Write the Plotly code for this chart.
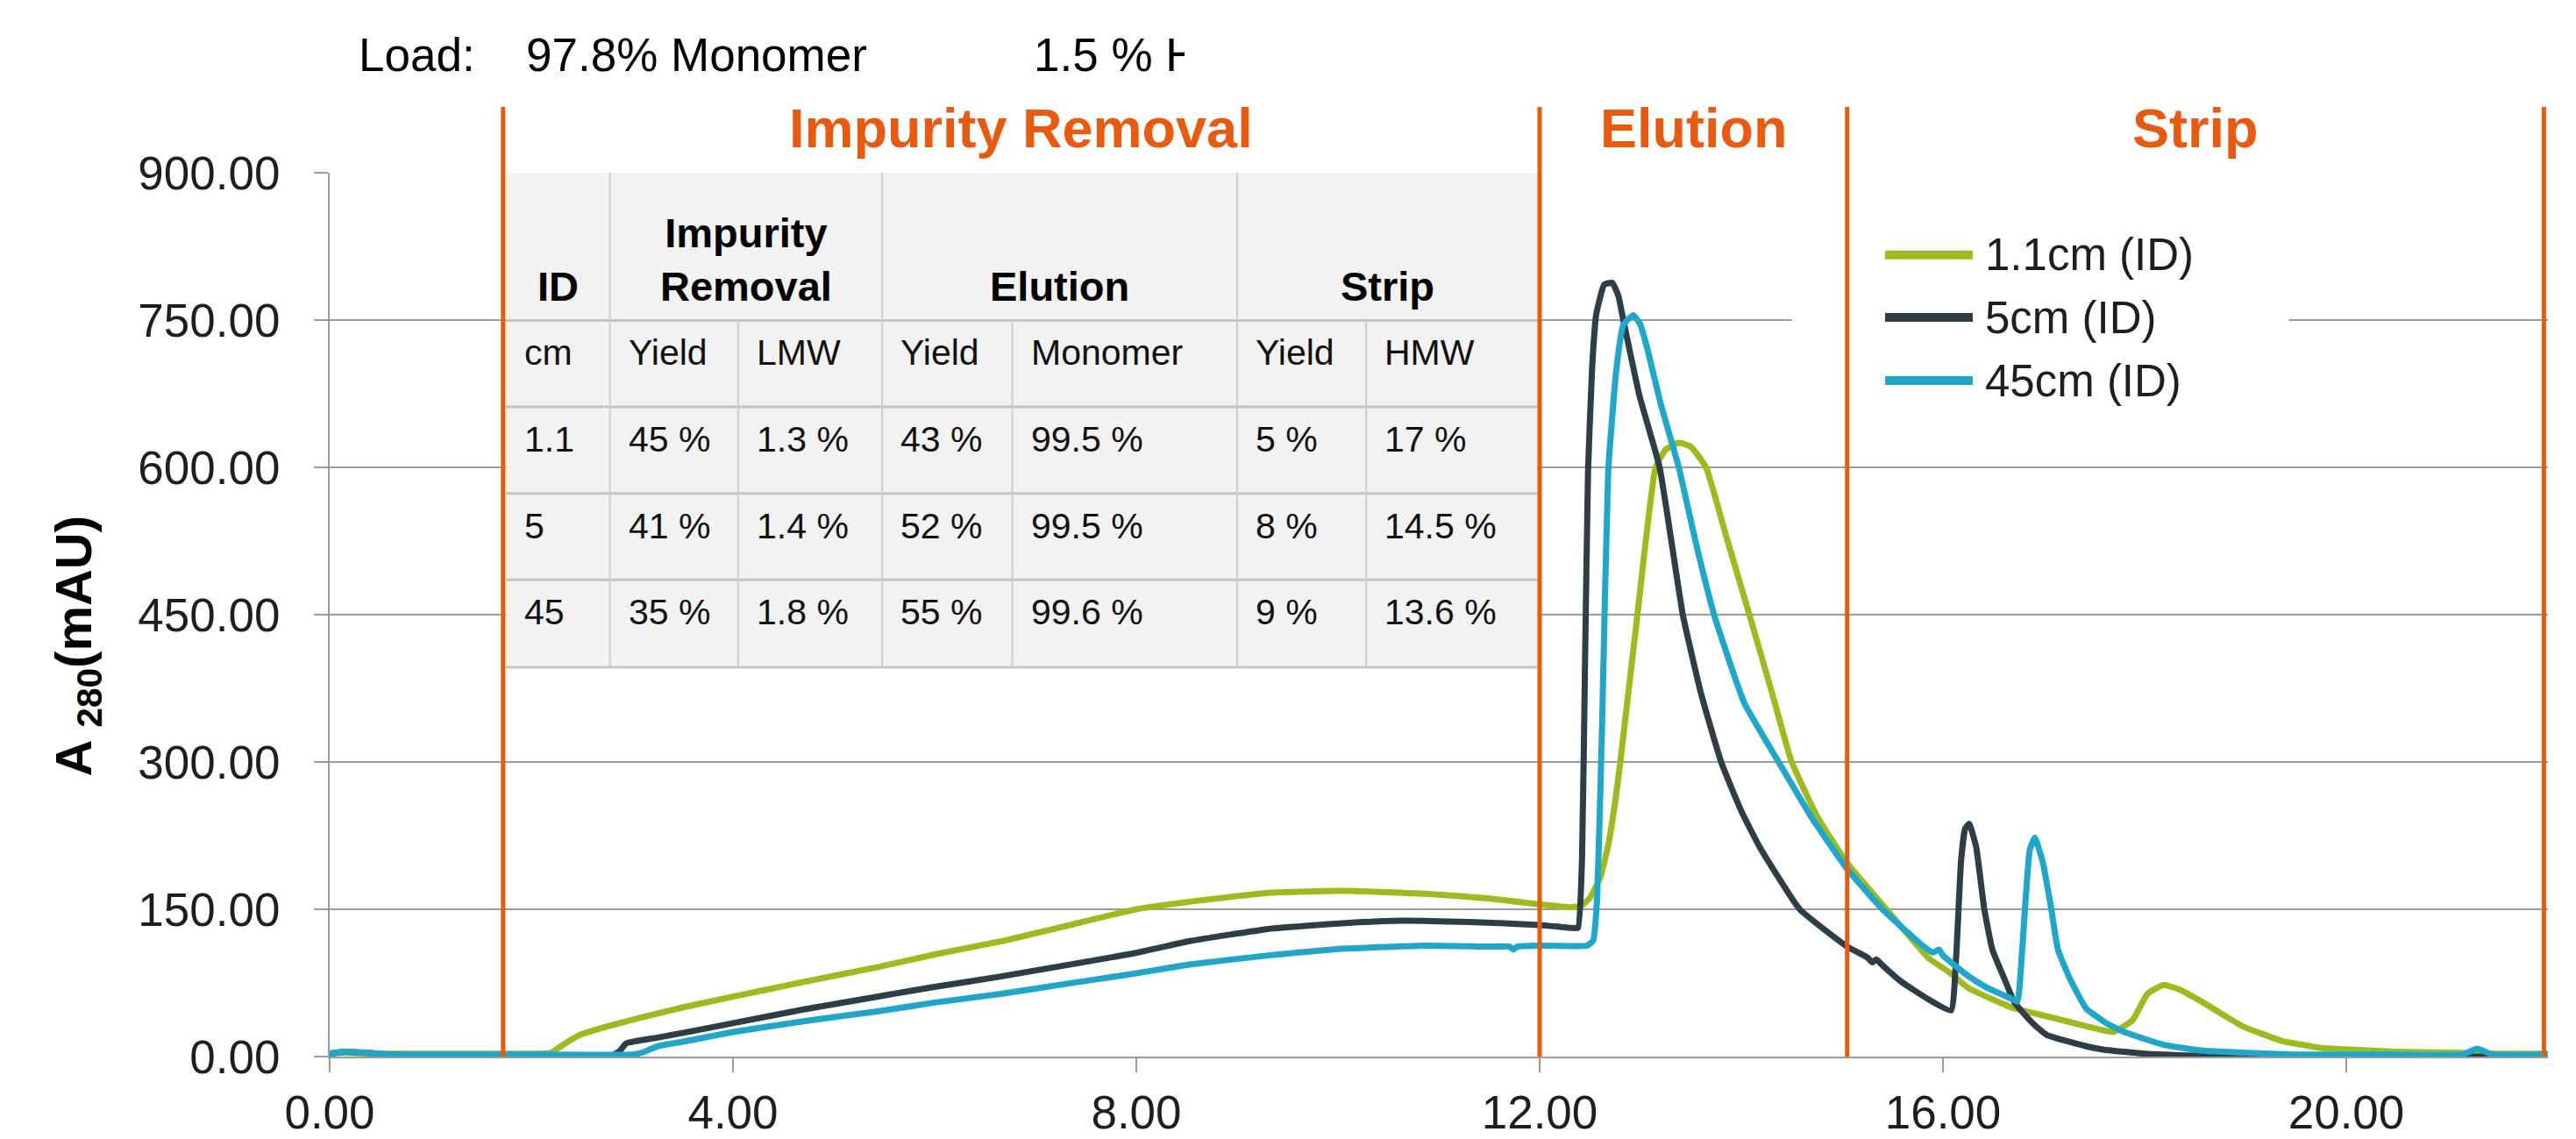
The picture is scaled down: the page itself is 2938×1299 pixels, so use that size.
import plotly.graph_objects as go

# ---------------- chromatogram traces (x = volume, y = A280 in mAU) ----------------
green_name = "1.1cm (ID)"
green_x = [0, 0.15, 0.35, 1.0, 1.7, 2.1, 2.2, 2.3, 2.48, 2.8, 3.1, 3.5, 4.0, 4.7, 5.43, 6.0,
           6.67, 7.3, 8.0, 8.53, 9.31, 10.08, 10.86, 11.5, 12.0, 12.32, 12.42, 12.5, 12.6,
           12.68, 12.75, 12.8, 12.97, 13.15, 13.25, 13.38, 13.5, 13.65, 13.85, 14.08, 14.3,
           14.5, 14.75, 15.05, 15.44, 15.86, 16.06, 16.25, 16.68, 17.07, 17.42, 17.69, 17.88,
           18.03, 18.19, 18.35, 18.58, 18.97, 19.36, 19.74, 20.5, 21.0, 21.5, 22.0]
green_y = [3, 4, 3, 3, 3, 3, 4, 11, 22, 32, 40, 50, 61, 76, 91, 104,
           117.6, 133, 150, 157.7, 166.7, 168.8, 165.8, 161, 155, 152, 154, 162, 182,
           215, 260, 300, 450, 600, 618, 625, 621, 600, 530, 450, 372,
           300, 245, 197, 150, 100, 86, 70, 50, 40, 31, 25, 37,
           64, 73, 68, 55, 31, 16, 9, 5, 4, 3, 3]

dark_name = "5cm (ID)"
dark_x = [0, 0.15, 0.35, 0.6, 1.0, 2.0, 2.8, 2.88, 2.94, 3.25, 3.6, 4.0, 4.7, 5.43, 6.0, 6.67,
          7.3, 8.0, 8.53, 9.31, 10.08, 10.64, 11.3, 12.0, 12.32, 12.38, 12.42, 12.45, 12.48,
          12.52, 12.56, 12.64, 12.72, 12.78, 12.83, 12.99, 13.19, 13.42, 13.6, 13.8, 14.0,
          14.19, 14.58, 15.05, 15.25, 15.3, 15.34, 15.4, 15.59, 15.86, 16.08, 16.13, 16.18,
          16.22, 16.26, 16.33, 16.41, 16.49, 16.61, 16.71, 16.89, 17.03, 17.42, 17.6, 18.0,
          18.5, 19.0, 22.0]
dark_y = [3, 5, 4, 2, 1, 1, 1, 6, 13.4, 19.3, 26, 34, 48, 61, 71, 81.8,
          93, 105.6, 117.6, 130, 136, 138.4, 137, 134, 131, 131, 200, 400, 596,
          700, 755, 786, 788, 775, 750, 673, 600, 450, 370, 300, 250,
          212, 150, 112, 101, 96, 99, 93, 76, 58, 47, 100, 200,
          232, 237, 213, 150, 109, 79, 55, 34, 22, 10.5, 7, 3,
          1, 0, 0]

blue_name = "45cm (ID)"
blue_x = [0, 0.15, 0.35, 0.6, 1.0, 2.0, 3.0, 3.1, 3.25, 3.6, 4.0, 4.7, 5.43, 6.0, 6.67, 7.3,
          8.0, 8.53, 9.31, 10.08, 10.86, 11.5, 11.7, 11.74, 11.78, 12.0, 12.47, 12.53, 12.57,
          12.62, 12.68, 12.76, 12.83, 12.93, 13.0, 13.07, 13.2, 13.38, 13.55, 13.73, 14.03,
          14.37, 14.7, 15.05, 15.4, 15.78, 15.9, 15.96, 16.0, 16.25, 16.44, 16.7, 16.74,
          16.78, 16.82, 16.86, 16.91, 16.99, 17.07, 17.14, 17.26, 17.42, 17.62, 17.8, 18.19,
          18.58, 18.97, 19.5, 20.5, 21.15, 21.3, 21.45, 22.0]
blue_y = [3, 5, 4, 2, 2, 2, 2, 4, 10.4, 17, 25, 36, 46, 55, 64, 74,
          84.8, 93.75, 103, 110, 113, 112, 112, 109, 112, 113, 113, 118, 160,
          340, 596, 699, 745, 755, 745, 720, 665, 600, 523, 450, 360,
          300, 243, 191, 150, 114.6, 106, 109, 103, 82, 70, 58, 56,
          100, 160, 210, 223, 198, 153, 109, 79, 49, 34, 25, 12,
          6, 4, 2, 2, 2, 8, 2, 2]

# ---------------- axes ----------------
x_tick_vals = [0, 4, 8, 12, 16, 20]
y_tick_vals = [0, 150, 300, 450, 600, 750, 900]

# ---------------- phase boundaries and labels ----------------
phase_bounds = [1.72, 12.0, 15.05, 21.96]
phase_names = ["Impurity Removal", "Elution", "Strip"]

# ---------------- summary table ----------------
table_groups = ["ID", "Impurity<br>Removal", "Elution", "Strip"]
table_subheads = ["cm", "Yield", "LMW", "Yield", "Monomer", "Yield", "HMW"]
col_id = ["1.1", "5", "45"]
col_ir_yield = ["45 %", "41 %", "35 %"]
col_ir_lmw = ["1.3 %", "1.4 %", "1.8 %"]
col_el_yield = ["43 %", "52 %", "55 %"]
col_el_monomer = ["99.5 %", "99.5 %", "99.6 %"]
col_st_yield = ["5 %", "8 %", "9 %"]
col_st_hmw = ["17 %", "14.5 %", "13.6 %"]

load_label = "Load:"
load_monomer = "97.8% Monomer"
load_hmw = "1.5 % H"

# ---------------- styling ----------------
FONT = "Liberation Sans, Arial, sans-serif"
GREEN = "#9DBB1F"
DARK = "#2E3E47"
BLUE = "#1FA6C9"
ORANGE = "#E85A0F"
GRID = "#9b9b9b"
TEXT = "#1e1e1e"

W, H = 2938, 1299
PL, PR, PT, PB = 376, 2906, 197, 1205  # plot area in pixels


def px(xpix):
    return (xpix - PL) / (PR - PL)


def py(ypix):
    return (PB - ypix) / (PB - PT)


fig = go.Figure()
for name, xs, ys, color in [(green_name, green_x, green_y, GREEN),
                            (dark_name, dark_x, dark_y, DARK),
                            (blue_name, blue_x, blue_y, BLUE)]:
    fig.add_trace(go.Scatter(x=xs, y=ys, mode="lines", name=name,
                             line=dict(color=color, width=7, shape="spline", smoothing=0.4),
                             showlegend=False))

shapes = []
annotations = []

# table geometry (data coordinates)
col_edges = [1.747, 2.78, 4.05, 5.48, 6.77, 9.0, 10.28, 11.98]
row_edges = [900, 749.6, 661.6, 573.5, 485.4, 396.4]
group_edges = [(col_edges[0], col_edges[1]), (col_edges[1], col_edges[3]),
               (col_edges[3], col_edges[5]), (col_edges[5], col_edges[7])]

shapes.append(dict(type="rect", xref="x", yref="y", x0=col_edges[0], x1=col_edges[-1],
                   y0=row_edges[-1], y1=row_edges[0], fillcolor="#f2f2f2",
                   line=dict(width=0), layer="between"))
for yv in row_edges[1:]:
    shapes.append(dict(type="line", xref="x", yref="y", x0=col_edges[0], x1=col_edges[-1],
                       y0=yv, y1=yv, line=dict(color="#c4c4c4", width=3), layer="between"))
for xv in [col_edges[1], col_edges[3], col_edges[5]]:
    shapes.append(dict(type="line", xref="x", yref="y", x0=xv, x1=xv,
                       y0=row_edges[-1], y1=row_edges[0],
                       line=dict(color="#cdcdcd", width=2), layer="between"))
for xv in [col_edges[2], col_edges[4], col_edges[6]]:
    shapes.append(dict(type="line", xref="x", yref="y", x0=xv, x1=xv,
                       y0=row_edges[-1], y1=row_edges[1],
                       line=dict(color="#cdcdcd", width=2), layer="between"))

# header cells (bold, centred, bottom aligned)
for label, (a, b) in zip(table_groups, group_edges):
    annotations.append(dict(text=f"<b>{label}</b>", xref="x", yref="y", x=(a + b) / 2,
                            y=row_edges[1], xanchor="center", yanchor="bottom", yshift=10,
                            showarrow=False, font=dict(size=47, color="#000000", family=FONT)))

# sub-header and body cells
body_rows = [table_subheads,
             *[list(r) for r in zip(col_id, col_ir_yield, col_ir_lmw, col_el_yield,
                                    col_el_monomer, col_st_yield, col_st_hmw)]]
for ri, row in enumerate(body_rows):
    top = row_edges[ri + 1]
    for ci, txt in enumerate(row):
        annotations.append(dict(text=txt, xref="x", yref="y", x=col_edges[ci], y=top,
                                xanchor="left", yanchor="top", xshift=19, yshift=-12,
                                showarrow=False,
                                font=dict(size=41, color="#111111", family=FONT)))

# white patch behind the legend block
shapes.append(dict(type="rect", xref="x", yref="y", x0=14.5, x1=19.43, y0=640, y1=880,
                   fillcolor="white", line=dict(width=0), layer="between"))

# phase boundaries
for xv in phase_bounds:
    shapes.append(dict(type="line", xref="x", yref="paper", x0=xv, x1=xv, y0=0, y1=py(122),
                       line=dict(color=ORANGE, width=5), layer="above"))
for name, a, b in zip(phase_names, phase_bounds[:-1], phase_bounds[1:]):
    annotations.append(dict(text=f"<b>{name}</b>", xref="x", yref="paper", x=(a + b) / 2,
                            y=py(145.5), xanchor="center", yanchor="middle", showarrow=False,
                            font=dict(size=63, color=ORANGE, family=FONT)))

# load composition line
annotations.append(dict(text=load_label, xref="paper", yref="paper", x=px(407), y=py(62.5),
                        xanchor="left", yanchor="middle", showarrow=False,
                        font=dict(size=53, color="#000000", family=FONT)))
annotations.append(dict(text=load_monomer, xref="paper", yref="paper", x=px(598), y=py(62.5),
                        xanchor="left", yanchor="middle", showarrow=False,
                        font=dict(size=53, color="#000000", family=FONT)))
annotations.append(dict(text=load_hmw, xref="paper", yref="paper", x=px(1177), y=py(62.5),
                        xanchor="left", yanchor="middle", showarrow=False, width=172,
                        align="left",
                        font=dict(size=53, color="#000000", family=FONT)))

# legend
legend_rows = [(green_name, GREEN, 290.7), (dark_name, DARK, 362.0), (blue_name, BLUE, 434.0)]
for name, color, ypix in legend_rows:
    shapes.append(dict(type="line", xref="paper", yref="paper", x0=px(2150), x1=px(2250),
                       y0=py(ypix), y1=py(ypix), line=dict(color=color, width=10),
                       layer="above"))
    annotations.append(dict(text=name, xref="paper", yref="paper", x=px(2262), y=py(ypix),
                            xanchor="left", yanchor="middle", showarrow=False,
                            font=dict(size=51, color=TEXT, family=FONT)))

# y-axis title
annotations.append(dict(text="<b>A <sub>280</sub>(mAU)</b>", xref="paper", yref="paper",
                        x=px(87), y=py(736.5), xanchor="center", yanchor="middle",
                        textangle=-90, showarrow=False,
                        font=dict(size=58, color="#000000", family=FONT)))

fig.update_layout(
    width=W, height=H,
    margin=dict(l=PL, r=W - PR, t=PT, b=H - PB, autoexpand=False),
    paper_bgcolor="white", plot_bgcolor="white",
    showlegend=False,
    font=dict(family=FONT, color=TEXT),
    shapes=shapes, annotations=annotations,
    xaxis=dict(range=[0, 22], tickvals=x_tick_vals,
               ticktext=[f"{v:.2f}" for v in x_tick_vals],
               showgrid=False, zeroline=False, showline=True, linecolor=GRID, linewidth=2,
               ticks="outside", ticklen=16, tickwidth=2, tickcolor=GRID,
               tickfont=dict(size=53, color=TEXT, family=FONT)),
    yaxis=dict(range=[0, 900], tickvals=y_tick_vals,
               ticktext=[f"{v:.2f}" for v in y_tick_vals],
               showgrid=True, gridcolor=GRID, gridwidth=2, zeroline=False,
               showline=True, linecolor=GRID, linewidth=2,
               ticks="outside", ticklen=16, tickwidth=2, tickcolor=GRID,
               ticklabelstandoff=28,
               tickfont=dict(size=53, color=TEXT, family=FONT)),
)

fig.write_html("out.html")
